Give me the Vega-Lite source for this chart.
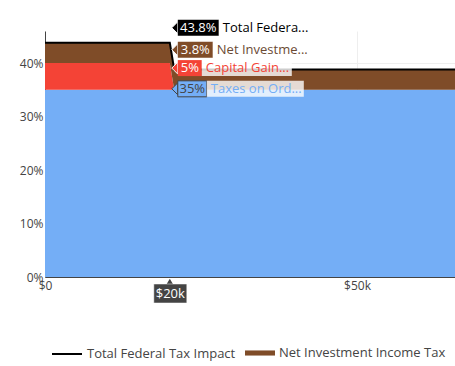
{
  "$schema": "https://vega.github.io/schema/vega-lite/v6.json",
  "width": 410,
  "height": 246,
  "autosize": {"type": "none"},
  "padding": {"left": 45, "top": 31, "right": 0, "bottom": 89},
  "background": "white",
  "config": {
    "view": {"stroke": null},
    "font": "Open Sans",
    "axis": {"labelFont": "Open Sans", "labelFontSize": 12, "labelColor": "#444", "ticks": false, "domainColor": "#444", "gridColor": "#eee", "labelFlush": false, "labelOverlap": false, "title": null},
    "legend": {"labelFont": "Open Sans", "labelFontSize": 13, "labelColor": "#444", "title": null, "labelOffset": 4, "padding": 0, "labelLimit": 400}
  },
  "data": {
    "values": [
      {"income": 0, "series": "Taxes on Ordinary Income", "rate": 35},
      {"income": 0, "series": "Capital Gains Tax", "rate": 5},
      {"income": 0, "series": "Net Investment Income Tax", "rate": 3.8},
      {"income": 0, "series": "Total Federal Tax Impact", "rate": 43.8},
      {"income": 20000, "series": "Taxes on Ordinary Income", "rate": 35},
      {"income": 20000, "series": "Capital Gains Tax", "rate": 5},
      {"income": 20000, "series": "Net Investment Income Tax", "rate": 3.8},
      {"income": 20000, "series": "Total Federal Tax Impact", "rate": 43.8},
      {"income": 20700, "series": "Taxes on Ordinary Income", "rate": 35},
      {"income": 20700, "series": "Capital Gains Tax", "rate": 0},
      {"income": 20700, "series": "Net Investment Income Tax", "rate": 3.8},
      {"income": 20700, "series": "Total Federal Tax Impact", "rate": 38.8},
      {"income": 65700, "series": "Taxes on Ordinary Income", "rate": 35},
      {"income": 65700, "series": "Capital Gains Tax", "rate": 0},
      {"income": 65700, "series": "Net Investment Income Tax", "rate": 3.8},
      {"income": 65700, "series": "Total Federal Tax Impact", "rate": 38.8}
    ]
  },
  "transform": [
    {"calculate": "indexof(['Taxes on Ordinary Income','Capital Gains Tax','Net Investment Income Tax','Total Federal Tax Impact'], datum.series)", "as": "ord"}
  ],
  "encoding": {
    "x": {
      "field": "income", "type": "quantitative",
      "scale": {"domain": [0, 65700], "nice": false, "zero": false},
      "axis": {"values": [0, 50000], "labelExpr": "datum.value === 0 ? '$0' : '$' + datum.value / 1000 + 'k'", "grid": true, "labelPadding": 3}
    }
  },
  "layer": [
    {
      "transform": [{"filter": "datum.series !== 'Total Federal Tax Impact'"}],
      "mark": {"type": "area", "opacity": 1},
      "encoding": {
        "y": {
          "field": "rate", "type": "quantitative", "stack": "zero",
          "scale": {"domain": [0, 46], "nice": false},
          "axis": {"values": [0, 10, 20, 30, 40], "labelExpr": "datum.value + '%'", "grid": true, "labelPadding": 2}
        },
        "color": {
          "field": "series", "type": "nominal",
          "scale": {"domain": ["Taxes on Ordinary Income", "Capital Gains Tax", "Net Investment Income Tax"], "range": ["#74aef6", "#f44336", "#7f4c28"]},
          "legend": {"values": ["Net Investment Income Tax"], "orient": "none", "legendX": 200, "legendY": 307, "symbolType": "M-1,-0.17H1V0.17H-1Z", "symbolSize": 900, "symbolStrokeWidth": 0, "symbolOpacity": 1}
        },
        "order": {"field": "ord", "type": "quantitative"}
      }
    },
    {
      "transform": [{"filter": "datum.series === 'Total Federal Tax Impact'"}],
      "mark": {"type": "line", "strokeWidth": 2},
      "encoding": {
        "y": {"field": "rate", "type": "quantitative"},
        "stroke": {
          "field": "series", "type": "nominal",
          "scale": {"domain": ["Total Federal Tax Impact"], "range": ["#000000"]},
          "legend": {"orient": "none", "legendX": 6, "legendY": 307, "symbolType": "stroke", "symbolSize": 900, "symbolStrokeWidth": 2}
        }
      }
    },
    {
      "transform": [
        {"filter": "datum.income === 20000"},
        {"window": [{"op": "sum", "field": "rate", "as": "cum"}], "sort": [{"field": "ord"}], "frame": [null, 0]},
        {"calculate": "datum.series === 'Total Federal Tax Impact' ? datum.rate : datum.cum", "as": "top"},
        {"calculate": "datum.rate + '%'", "as": "vlabel"},
        {"calculate": "substring(datum.series, 0, 12) + '...'", "as": "nlabel"}
      ],
      "layer": [
        {
          "transform": [{"filter": "datum.series === 'Total Federal Tax Impact'"}],
          "layer": [
            {"mark": {"type": "point", "shape": "M-0.5,0L0.5,-1L0.5,1Z", "size": 144, "filled": true, "fill": "#000", "stroke": "#fff", "strokeWidth": 1, "opacity": 1, "xOffset": 5, "yOffset": -15},
             "encoding": {"y": {"field": "top", "type": "quantitative"}}},
            {"mark": {"type": "rect", "fill": "#000", "xOffset": 8, "x2Offset": 49, "yOffset": -23, "y2Offset": -7},
             "encoding": {"x2": {"field": "income"}, "y": {"field": "top", "type": "quantitative"}, "y2": {"field": "top"}}},
            {"mark": {"type": "rect", "fill": "#fff", "opacity": 0.8, "xOffset": 49, "x2Offset": 141, "yOffset": -23, "y2Offset": -7},
             "encoding": {"x2": {"field": "income"}, "y": {"field": "top", "type": "quantitative"}, "y2": {"field": "top"}}},
            {"mark": {"type": "text", "color": "#fff", "fontSize": 13, "align": "center", "baseline": "middle", "xOffset": 28.5, "yOffset": -15},
             "encoding": {"y": {"field": "top", "type": "quantitative"}, "text": {"field": "vlabel"}}},
            {"mark": {"type": "text", "color": "#000", "fontSize": 13, "align": "left", "baseline": "middle", "xOffset": 53, "yOffset": -15},
             "encoding": {"y": {"field": "top", "type": "quantitative"}, "text": {"field": "nlabel"}}}
          ]
        },
        {
          "transform": [{"filter": "datum.series === 'Net Investment Income Tax'"}],
          "layer": [
            {"mark": {"type": "point", "shape": "M-0.5,0L0.5,-1L0.5,1Z", "size": 144, "filled": true, "fill": "#7f4c28", "stroke": "#fff", "strokeWidth": 1, "opacity": 1, "xOffset": 5, "yOffset": 7},
             "encoding": {"y": {"field": "top", "type": "quantitative"}}},
            {"mark": {"type": "rect", "fill": "#7f4c28", "xOffset": 8, "x2Offset": 43, "yOffset": -1, "y2Offset": 15},
             "encoding": {"x2": {"field": "income"}, "y": {"field": "top", "type": "quantitative"}, "y2": {"field": "top"}}},
            {"mark": {"type": "rect", "fill": "#fff", "opacity": 0.8, "xOffset": 43, "x2Offset": 137, "yOffset": -1, "y2Offset": 15},
             "encoding": {"x2": {"field": "income"}, "y": {"field": "top", "type": "quantitative"}, "y2": {"field": "top"}}},
            {"mark": {"type": "text", "color": "#fff", "fontSize": 13, "align": "center", "baseline": "middle", "xOffset": 25.5, "yOffset": 7},
             "encoding": {"y": {"field": "top", "type": "quantitative"}, "text": {"field": "vlabel"}}},
            {"mark": {"type": "text", "color": "#6b4a33", "fontSize": 13, "align": "left", "baseline": "middle", "xOffset": 47, "yOffset": 7},
             "encoding": {"y": {"field": "top", "type": "quantitative"}, "text": {"field": "nlabel"}}}
          ]
        },
        {
          "transform": [{"filter": "datum.series === 'Capital Gains Tax'"}],
          "layer": [
            {"mark": {"type": "point", "shape": "M-0.5,0L0.5,-1L0.5,1Z", "size": 144, "filled": true, "fill": "#f44336", "stroke": "#fff", "strokeWidth": 1, "opacity": 1, "xOffset": 5, "yOffset": 5},
             "encoding": {"y": {"field": "top", "type": "quantitative"}}},
            {"mark": {"type": "rect", "fill": "#f44336", "xOffset": 8, "x2Offset": 32, "yOffset": -3, "y2Offset": 13},
             "encoding": {"x2": {"field": "income"}, "y": {"field": "top", "type": "quantitative"}, "y2": {"field": "top"}}},
            {"mark": {"type": "rect", "fill": "#fff", "opacity": 0.8, "xOffset": 32, "x2Offset": 122, "yOffset": -3, "y2Offset": 13},
             "encoding": {"x2": {"field": "income"}, "y": {"field": "top", "type": "quantitative"}, "y2": {"field": "top"}}},
            {"mark": {"type": "text", "color": "#fff", "fontSize": 13, "align": "center", "baseline": "middle", "xOffset": 20, "yOffset": 5},
             "encoding": {"y": {"field": "top", "type": "quantitative"}, "text": {"field": "vlabel"}}},
            {"mark": {"type": "text", "color": "#f44336", "fontSize": 13, "align": "left", "baseline": "middle", "xOffset": 36, "yOffset": 5},
             "encoding": {"y": {"field": "top", "type": "quantitative"}, "text": {"field": "nlabel"}}}
          ]
        },
        {
          "transform": [{"filter": "datum.series === 'Taxes on Ordinary Income'"}],
          "layer": [
            {"mark": {"type": "point", "shape": "M-0.5,0L0.5,-1L0.5,1Z", "size": 144, "filled": true, "fill": "#74aef6", "stroke": "#444", "strokeWidth": 1, "opacity": 1, "xOffset": 5, "yOffset": -1},
             "encoding": {"y": {"field": "top", "type": "quantitative"}}},
            {"mark": {"type": "rect", "fill": "#74aef6", "stroke": "#444", "strokeWidth": 1, "xOffset": 8, "x2Offset": 37, "yOffset": -9, "y2Offset": 7},
             "encoding": {"x2": {"field": "income"}, "y": {"field": "top", "type": "quantitative"}, "y2": {"field": "top"}}},
            {"mark": {"type": "rect", "fill": "#fff", "opacity": 0.8, "xOffset": 37, "x2Offset": 134, "yOffset": -9, "y2Offset": 7},
             "encoding": {"x2": {"field": "income"}, "y": {"field": "top", "type": "quantitative"}, "y2": {"field": "top"}}},
            {"mark": {"type": "text", "color": "#444", "fontSize": 13, "align": "center", "baseline": "middle", "xOffset": 22.5, "yOffset": -1},
             "encoding": {"y": {"field": "top", "type": "quantitative"}, "text": {"field": "vlabel"}}},
            {"mark": {"type": "text", "color": "#74aef6", "fontSize": 13, "align": "left", "baseline": "middle", "xOffset": 41, "yOffset": -1},
             "encoding": {"y": {"field": "top", "type": "quantitative"}, "text": {"field": "nlabel"}}}
          ]
        },
        {
          "transform": [
            {"filter": "datum.series === 'Total Federal Tax Impact'"},
            {"calculate": "'$' + datum.income / 1000 + 'k'", "as": "xlabel"}
          ],
          "layer": [
            {"mark": {"type": "point", "shape": "triangle-up", "size": 60, "filled": true, "fill": "#444", "opacity": 1, "yOffset": 5},
             "encoding": {"y": {"datum": 0}}},
            {"mark": {"type": "rect", "fill": "#444", "stroke": "#fff", "strokeWidth": 0.5, "xOffset": -16, "x2Offset": 17, "yOffset": 7, "y2Offset": 26},
             "encoding": {"x2": {"field": "income"}, "y": {"datum": 0}, "y2": {"datum": 0}}},
            {"mark": {"type": "text", "color": "#fff", "fontSize": 13, "align": "center", "baseline": "middle", "xOffset": 0.5, "yOffset": 16.5},
             "encoding": {"y": {"datum": 0}, "text": {"field": "xlabel"}}}
          ]
        }
      ]
    }
  ]
}
